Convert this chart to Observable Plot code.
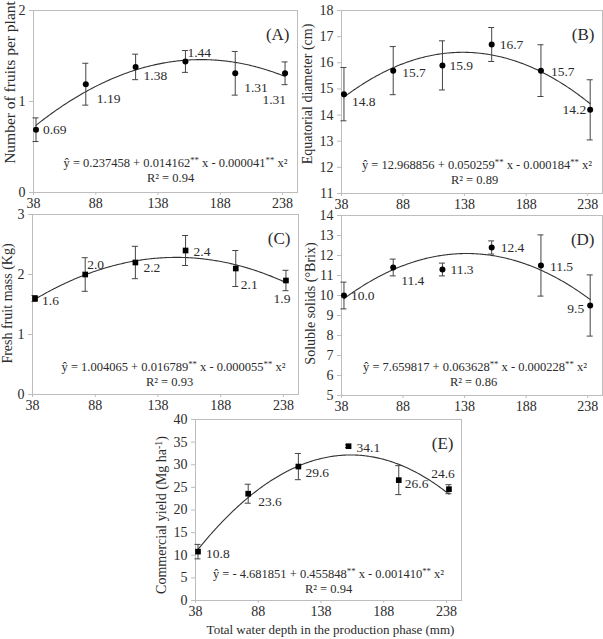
<!DOCTYPE html>
<html>
<head>
<meta charset="utf-8">
<script src="https://cdn.jsdelivr.net/npm/d3@7"></script>
<script src="https://cdn.jsdelivr.net/npm/@observablehq/plot@0.6"></script>
<style>
  body { margin: 0; background: #fff; }
  #fig { position: relative; width: 603px; height: 639px; font-family: "Liberation Serif", "Times New Roman", serif; }
  #fig svg { position: absolute; overflow: visible; }
</style>
</head>
<body>
<div id="fig"></div>
<script>
// Total water depth applied in the production phase (mm)
const depth = [40, 80, 120, 160, 200, 240];
const xTicks = [38, 88, 138, 188, 238];

// (A) number of fruits per plant
const fruitsMean = [0.69, 1.19, 1.38, 1.44, 1.31, 1.31];
const fruitsSE = [0.13, 0.23, 0.14, 0.12, 0.24, 0.125];
const fruitsCoef = [0.237458, 0.014162, -0.000041];
const fruitsTicks = [0, 1, 2];

// (B) equatorial diameter (cm)
const diameterMean = [14.8, 15.7, 15.9, 16.7, 15.7, 14.2];
const diameterSE = [1.02, 0.92, 0.94, 0.65, 0.99, 1.15];
const diameterCoef = [12.968856, 0.050259, -0.000184];
const diameterTicks = [11, 12, 13, 14, 15, 16, 17, 18];

// (C) fresh fruit mass (kg)
const massMean = [1.6, 2.0, 2.2, 2.4, 2.1, 1.9];
const massSE = [0.05, 0.28, 0.27, 0.25, 0.30, 0.17];
const massCoef = [1.004065, 0.016789, -0.000055];
const massTicks = [0, 1, 2, 3];

// (D) soluble solids (°Brix)
const solidsMean = [10.0, 11.4, 11.3, 12.4, 11.5, 9.5];
const solidsSE = [0.67, 0.42, 0.32, 0.33, 1.53, 1.53];
const solidsCoef = [7.659817, 0.063628, -0.000228];
const solidsTicks = [5, 6, 7, 8, 9, 10, 11, 12, 13, 14];

// (E) commercial yield (Mg/ha)
const yieldMean = [10.8, 23.6, 29.6, 34.1, 26.6, 24.6];
const yieldSE = [1.6, 2.1, 2.9, 0.3, 3.2, 1.0];
const yieldCoef = [-4.681851, 0.455848, -0.001410];
const yieldTicks = [0, 5, 10, 15, 20, 25, 30, 35, 40];

// printed regression equations (^{...} marks superscript)
const fruitsEq = "ŷ = 0.237458 + 0.014162^{**} x - 0.000041^{**} x²";
const diameterEq = "ŷ = 12.968856 + 0.050259^{**} x - 0.000184^{**} x²";
const massEq = "ŷ = 1.004065 + 0.016789^{**} x - 0.000055^{**} x²";
const solidsEq = "ŷ = 7.659817 + 0.063628^{**} x - 0.000228^{**} x²";
const yieldEq = "ŷ = - 4.681851 + 0.455848^{**} x - 0.001410^{**} x²";
const r2Labels = ["R² = 0.94", "R² = 0.89", "R² = 0.93", "R² = 0.86", "R² = 0.94"];

const serif = '"Liberation Serif", "Times New Roman", serif';
const ink = "#2b2b2b";
const axisGray = "#bdbdbd";

// label offsets per point: [dx, dy, textAnchor]
const panels = [
  {tag: "(A)", title: "Number of fruits per plant", titleSize: 15.5, titleDx: -23, titleDy: -19,
   mean: fruitsMean, se: fruitsSE, coef: fruitsCoef, yTicks: fruitsTicks, fmt: d3.format(".2f"),
   eq: fruitsEq, r2: r2Labels[0], eqDx: 10, eqDy: -26, r2Dy: -11, symbol: "circle",
   box: {left: 0, top: 0, w: 300, h: 212}, margin: [10, 3, 20, 33],
   place: [[7, 0, "start"], [11, 14, "start"], [8, 9, "start"], [2, -9, "start"], [9, 14, "start"], [1, 26, "end"]]},
  {tag: "(B)", title: "Equatorial diameter (cm)", titleSize: 14, titleDx: -34, titleDy: -8,
   mean: diameterMean, se: diameterSE, coef: diameterCoef, yTicks: diameterTicks, fmt: d3.format(".1f"),
   eq: diameterEq, r2: r2Labels[1], eqDx: 5, eqDy: -25, r2Dy: -10, symbol: "circle",
   box: {left: 300, top: 0, w: 303, h: 212}, margin: [10, 1, 19, 41],
   place: [[8, 8, "start"], [9, 2, "start"], [7, 0, "start"], [8, 0, "start"], [10, 1, "start"], [-4, 0, "end"]]},
  {tag: "(C)", title: "Fresh fruit mass (Kg)", titleSize: 14, titleDx: -25, titleDy: -1,
   mean: massMean, se: massSE, coef: massCoef, yTicks: massTicks, fmt: d3.format(".1f"),
   eq: massEq, r2: r2Labels[2], eqDx: 8, eqDy: -24, r2Dy: -9, symbol: "square",
   box: {left: 0, top: 204, w: 300, h: 214}, margin: [10, 2, 24, 32],
   place: [[7, 2, "start"], [2, -10, "start"], [8, 5, "start"], [8, 1, "start"], [5, 16, "start"], [-4, 18, "middle"]]},
  {tag: "(D)", title: "Soluble solids (°Brix)", titleSize: 14, titleDx: -31, titleDy: -2,
   mean: solidsMean, se: solidsSE, coef: solidsCoef, yTicks: solidsTicks, fmt: d3.format(".1f"),
   eq: solidsEq, r2: r2Labels[3], eqDx: 3, eqDy: -25, r2Dy: -10, symbol: "circle",
   box: {left: 300, top: 204, w: 303, h: 214}, margin: [11, 1, 23, 41],
   place: [[7, 0, "start"], [8, 13, "start"], [8, 0, "start"], [9, 0, "start"], [9, 1, "start"], [-6, 3, "end"]]},
  {tag: "(E)", title: "Commercial yield (Mg ha^{-1})", titleSize: 14, titleDx: -34, titleDy: 5,
   mean: yieldMean, se: yieldSE, coef: yieldCoef, yTicks: yieldTicks, fmt: d3.format(".1f"),
   eq: yieldEq, r2: r2Labels[4], eqDx: 0, eqDy: -23, r2Dy: -8, symbol: "square",
   xTitle: "Total water depth in the production phase (mm)",
   box: {left: 150, top: 409, w: 320, h: 230}, margin: [10, 9, 39, 45],
   place: [[8, 2, "start"], [10, 8, "start"], [7, 6, "start"], [8, 1, "start"], [6, 4, "start"], [-6, -16, "middle"]]}
];

// turn "^{...}" runs into raised tspans
function superscripts(svg) {
  d3.select(svg).selectAll("text").each(function () {
    const s = this.textContent;
    if (!s.includes("^{")) return;
    const parts = s.split(/\^\{([^}]*)\}/);
    this.textContent = "";
    const sel = d3.select(this);
    parts.forEach((part, i) => {
      if (!part) return;
      const t = sel.append("tspan").text(part);
      if (i % 2 === 1) {
        t.attr("dy", "-0.45em").attr("font-size", "70%");
      } else if (i > 0) {
        t.attr("dy", "0.315em");
      }
    });
  });
}

const fig = document.getElementById("fig");

panels.forEach((p) => {
  const rows = depth.map((x, i) => ({x, y: p.mean[i], lo: p.mean[i] - p.se[i], hi: p.mean[i] + p.se[i], label: p.fmt(p.mean[i])}));
  const [b0, b1, b2] = p.coef;
  // fitted quadratic from the printed coefficients
  const fit = d3.range(depth[0], depth[depth.length - 1] + 0.5, 1).map((x) => ({x, y: b0 + b1 * x + b2 * x * x}));
  const yDomain = [p.yTicks[0], p.yTicks[p.yTicks.length - 1]];

  const labelMarks = rows.map((r, i) =>
    Plot.text([r], {x: "x", y: "y", text: "label", dx: p.place[i][0], dy: p.place[i][1],
      textAnchor: p.place[i][2], fontSize: 13.5, fill: ink})
  );

  const marks = [
    Plot.frame({stroke: axisGray}),
    Plot.axisX({ticks: xTicks, tickSize: 3, tickPadding: 3, stroke: axisGray, fill: ink, fontSize: 14, label: null, tickFormat: (d) => d}),
    Plot.axisY({ticks: p.yTicks, tickSize: 4, tickPadding: 4, stroke: axisGray, fill: ink, fontSize: 14, label: null, tickFormat: (d) => d}),
    Plot.line(fit, {x: "x", y: "y", stroke: "#333", strokeWidth: 1.1}),
    Plot.link(rows, {x1: "x", x2: "x", y1: "lo", y2: "hi", stroke: "#444", strokeWidth: 1}),
    Plot.ruleY(rows, {x1: "x", x2: "x", y: "hi", insetLeft: -3, insetRight: -3, stroke: "#444", strokeWidth: 1}),
    Plot.ruleY(rows, {x1: "x", x2: "x", y: "lo", insetLeft: -3, insetRight: -3, stroke: "#444", strokeWidth: 1}),
    Plot.dot(rows, {x: "x", y: "y", r: p.symbol === "square" ? 3.2 : 3, symbol: p.symbol, fill: "#000", stroke: "none"}),
    ...labelMarks,
    Plot.text([p.tag], {frameAnchor: "top-right", dx: -8, dy: 17, textAnchor: "end", fontSize: 17, fill: ink}),
    Plot.text([p.eq], {frameAnchor: "bottom", textAnchor: "middle", dx: p.eqDx, dy: p.eqDy, fontSize: 12.5, fill: ink}),
    Plot.text([p.r2], {frameAnchor: "bottom", textAnchor: "middle", dx: p.eqDx / 2, dy: p.r2Dy, fontSize: 12.5, fill: ink}),
    Plot.text([p.title], {frameAnchor: "left", textAnchor: "middle", lineAnchor: "middle", rotate: -90,
      dx: p.titleDx, dy: p.titleDy, fontSize: p.titleSize, fill: ink})
  ];
  if (p.xTitle) {
    marks.push(Plot.text([p.xTitle], {frameAnchor: "bottom", textAnchor: "middle", dx: 2, dy: 33, fontSize: 13, fill: ink}));
  }

  const [mt, mr, mb, ml] = p.margin;
  const svg = Plot.plot({
    width: p.box.w,
    height: p.box.h,
    marginTop: mt, marginRight: mr, marginBottom: mb, marginLeft: ml,
    style: {fontFamily: serif, fontSize: "14px", color: ink, background: "transparent", overflow: "visible"},
    x: {domain: [38, 250]},
    y: {domain: yDomain},
    marks
  });
  superscripts(svg);
  svg.style.left = p.box.left + "px";
  svg.style.top = p.box.top + "px";
  fig.appendChild(svg);
});
</script>
</body>
</html>
